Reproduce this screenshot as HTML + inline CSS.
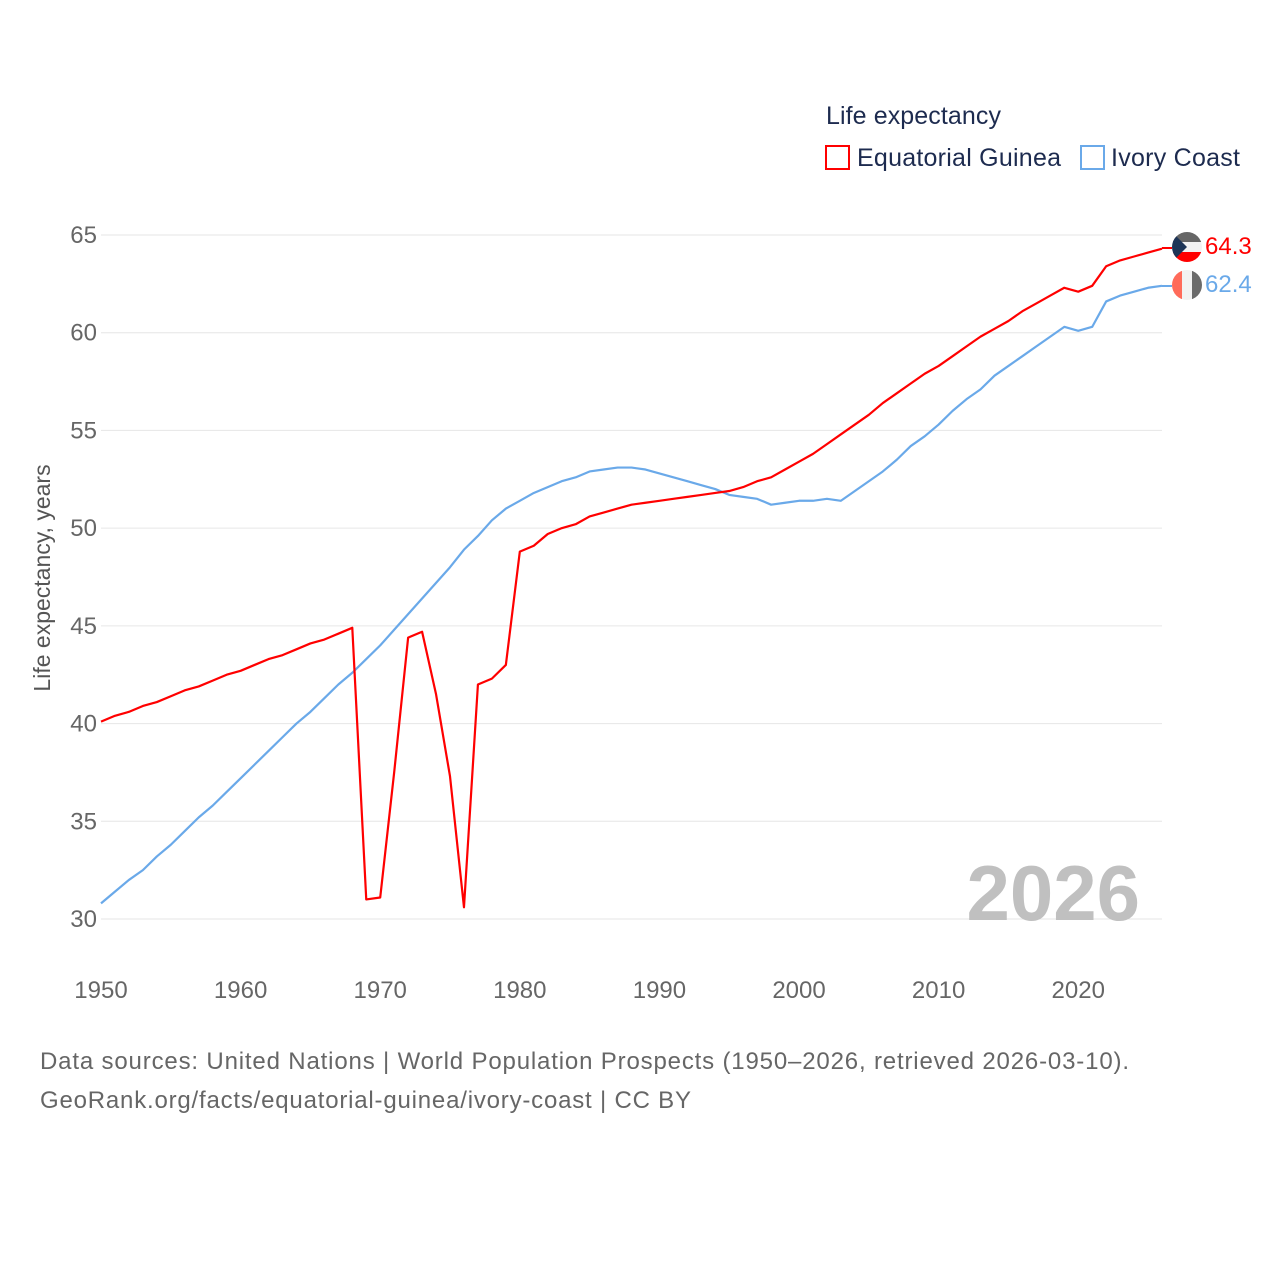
<!DOCTYPE html>
<html><head><meta charset="utf-8"><style>
body{margin:0;background:#fff;width:1280px;height:1280px;overflow:hidden;font-family:"Liberation Sans",sans-serif}
</style></head><body>
<svg id="chart" width="1280" height="1280" xmlns="http://www.w3.org/2000/svg" font-family="Liberation Sans, sans-serif">
<text x="826" y="124" font-size="25" fill="#1d2b4f" textLength="175">Life expectancy</text>
<g><rect x="826" y="146" width="23" height="23" fill="none" stroke="#f00" stroke-width="2"/><text x="857" y="166" font-size="25" fill="#1d2b4f" textLength="204">Equatorial Guinea</text></g>
<g><rect x="1081" y="146" width="23" height="23" fill="none" stroke="#6aa9e9" stroke-width="2"/><text x="1111" y="166" font-size="25" fill="#1d2b4f" textLength="129">Ivory Coast</text></g>
<g id="grid"></g>
<g id="xt"></g>
<text transform="translate(50,578) rotate(-90)" text-anchor="middle" font-size="23" fill="#555">Life expectancy, years</text>
<text x="1140" y="920" text-anchor="end" font-size="78" font-weight="bold" fill="#c0c0c0">2026</text>
<g id="lines"></g>
<line x1="1162" y1="248" x2="1172" y2="248" stroke="#f00" stroke-width="2"/>
<line x1="1162" y1="286" x2="1172" y2="286" stroke="#6aa9e9" stroke-width="2"/>
<g><clipPath id="c1"><circle cx="1187" cy="247" r="15"/></clipPath><g clip-path="url(#c1)"><rect x="1172" y="232" width="30" height="10" fill="#666"/><rect x="1172" y="242" width="30" height="10" fill="#f2f2f2"/><rect x="1172" y="252" width="30" height="10" fill="#f00"/><polygon points="1172,232 1187,247 1172,262" fill="#1d3557"/></g></g>
<g><clipPath id="c2"><circle cx="1187" cy="285" r="15"/></clipPath><g clip-path="url(#c2)"><rect x="1172" y="270" width="10" height="30" fill="#ff6b5a"/><rect x="1182" y="270" width="10" height="30" fill="#f2f2f2"/><rect x="1192" y="270" width="10" height="30" fill="#6b6b6b"/></g></g>
<text x="1205" y="254" font-size="24" fill="#f00">64.3</text>
<text x="1205" y="292" font-size="24" fill="#6aa9e9">62.4</text>
<text x="40" y="1069" font-size="24" fill="#666" textLength="1089">Data sources: United Nations | World Population Prospects (1950–2026, retrieved 2026-03-10).</text>
<text x="40" y="1108" font-size="24" fill="#666" textLength="651">GeoRank.org/facts/equatorial-guinea/ivory-coast | CC BY</text>
</svg>
<script>
const startYear = 1950;
const xTicks = [1950,1960,1970,1980,1990,2000,2010,2020];
const yTicks = [30,35,40,45,50,55,60,65];
const eqGuinea = [40.1,40.4,40.6,40.9,41.1,41.4,41.7,41.9,42.2,42.5,42.7,43.0,43.3,43.5,43.8,44.1,44.3,44.6,44.9,31.0,31.1,37.5,44.4,44.7,41.5,37.3,30.6,42.0,42.3,43.0,48.8,49.1,49.7,50.0,50.2,50.6,50.8,51.0,51.2,51.3,51.4,51.5,51.6,51.7,51.8,51.9,52.1,52.4,52.6,53.0,53.4,53.8,54.3,54.8,55.3,55.8,56.4,56.9,57.4,57.9,58.3,58.8,59.3,59.8,60.2,60.6,61.1,61.5,61.9,62.3,62.1,62.4,63.4,63.7,63.9,64.1,64.3];
const ivoryCoast = [30.8,31.4,32.0,32.5,33.2,33.8,34.5,35.2,35.8,36.5,37.2,37.9,38.6,39.3,40.0,40.6,41.3,42.0,42.6,43.3,44.0,44.8,45.6,46.4,47.2,48.0,48.9,49.6,50.4,51.0,51.4,51.8,52.1,52.4,52.6,52.9,53.0,53.1,53.1,53.0,52.8,52.6,52.4,52.2,52.0,51.7,51.6,51.5,51.2,51.3,51.4,51.4,51.5,51.4,51.9,52.4,52.9,53.5,54.2,54.7,55.3,56.0,56.6,57.1,57.8,58.3,58.8,59.3,59.8,60.3,60.1,60.3,61.6,61.9,62.1,62.3,62.4];
const X = y => 101 + (y - 1950) * (1162 - 101) / 76;
const Y = v => 919 - (v - 30) * (919 - 235) / 35;
const NS = "http://www.w3.org/2000/svg";
const grid = document.getElementById('grid');
yTicks.forEach(t => {
  const l = document.createElementNS(NS,'line');
  l.setAttribute('x1',101); l.setAttribute('x2',1162);
  l.setAttribute('y1',Y(t)); l.setAttribute('y2',Y(t));
  l.setAttribute('stroke','#e6e6e6'); l.setAttribute('stroke-width',1);
  
  
  grid.appendChild(l);
  const tx = document.createElementNS(NS,'text');
  tx.setAttribute('x',97); tx.setAttribute('y',Y(t)+8);
  tx.setAttribute('text-anchor','end'); tx.setAttribute('font-size',24); tx.setAttribute('fill','#666');
  tx.textContent = t;
  
  
  grid.appendChild(tx);
});
const xt = document.getElementById('xt');
xTicks.forEach(t => {
  const tx = document.createElementNS(NS,'text');
  tx.setAttribute('x',X(t)); tx.setAttribute('y',998);
  tx.setAttribute('text-anchor','middle'); tx.setAttribute('font-size',24); tx.setAttribute('fill','#666');
  tx.textContent = t;
  
  
  xt.appendChild(tx);
});
const lines = document.getElementById('lines');
function draw(arr, color, name){
  const p = document.createElementNS(NS,'polyline');
  p.setAttribute('points', arr.map((v,i)=>X(startYear+i)+','+Y(v)).join(' '));
  p.setAttribute('fill','none'); p.setAttribute('stroke',color); p.setAttribute('stroke-width',2.2);
  p.setAttribute('stroke-linejoin','round');
  
  
  lines.appendChild(p);
}
draw(ivoryCoast,'#6aa9e9','line-ivory-coast');
draw(eqGuinea,'#f00','line-equatorial-guinea');
</script>
</body></html>
